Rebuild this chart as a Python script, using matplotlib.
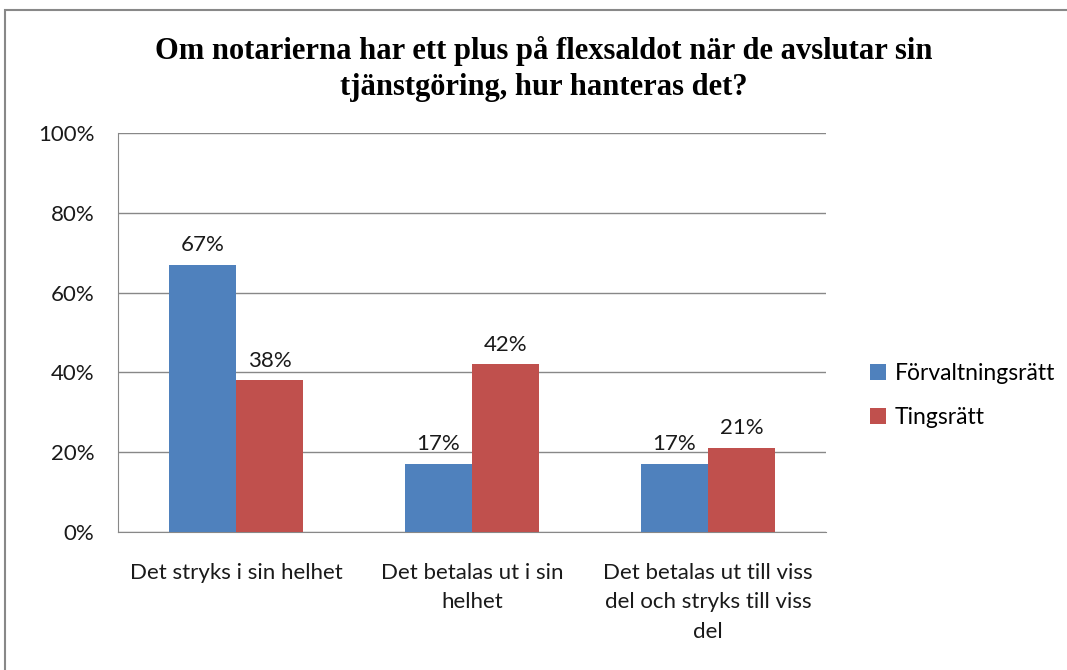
import matplotlib.pyplot as plt
import numpy as np
from matplotlib.patches import Rectangle

categories = ['Det stryks i sin helhet', 'Det betalas ut i sin\nhelhet',
              'Det betalas ut till viss\ndel och stryks till viss\ndel']
series_names = ['Förvaltningsrätt', 'Tingsrätt']
forvaltning = [67, 17, 17]
tingsratt = [38, 42, 21]
yticks = [0, 20, 40, 60, 80, 100]

blue = '#4F81BD'
red = '#C0504D'
sans = ['Lato', 'DejaVu Sans']
fs = 16

fig = plt.figure(figsize=(10.67, 6.7), dpi=100)
ax = fig.add_axes([118/1067, 1-532/670, (826-118)/1067, (532-133)/670])

x = np.arange(len(categories))
w = 0.284
b1 = ax.bar(x - w/2, forvaltning, w, color=blue, label=series_names[0], zorder=3)
b2 = ax.bar(x + w/2, tingsratt, w, color=red, label=series_names[1], zorder=3)

for bars in (b1, b2):
    for r in bars:
        ax.annotate(f'{r.get_height():.0f}%', (r.get_x() + r.get_width()/2, r.get_height()),
                    xytext=(0, 7), textcoords='offset points', ha='center', va='bottom',
                    fontsize=fs, family=sans, color='#1a1a1a')

ax.set_xlim(-0.5, 2.5)
ax.set_ylim(0, 100)
ax.set_yticks(yticks)
ax.set_yticklabels([f'{v}%' for v in yticks], fontsize=fs, family=sans, color='#1a1a1a')
ax.set_xticks(x)
ax.set_xticklabels(categories, fontsize=fs, family=sans, color='#1a1a1a', linespacing=1.6)
ax.tick_params(axis='x', length=0, pad=22)
ax.tick_params(axis='y', length=0, pad=17)
ax.grid(axis='y', color='#888888', linewidth=1, zorder=0)
for s in ['top', 'right']:
    ax.spines[s].set_visible(False)
for s in ['left', 'bottom']:
    ax.spines[s].set_color('#888888')

leg = fig.legend(handles=[b1, b2], loc='upper left', bbox_to_anchor=(849/1067, 1-342/670),
                 frameon=False, prop={'family': sans, 'size': fs + 0.5}, handlelength=0.7,
                 handleheight=0.7, handletextpad=0.4, labelspacing=1.0)

fig.text(544/1067, 1-69/670, 'Om notarierna har ett plus på flexsaldot när de avslutar sin\ntjänstgöring, hur hanteras det?',
         ha='center', va='center', fontsize=22, fontweight='bold', family='Liberation Serif',
         linespacing=1.35)

fig.patches.append(Rectangle((5/1067, -0.1), 1.2, 1-10/670 + 0.1, transform=fig.transFigure,
                             fill=False, edgecolor='#888888', linewidth=1.5))

fig.savefig('out.png', dpi=100)
